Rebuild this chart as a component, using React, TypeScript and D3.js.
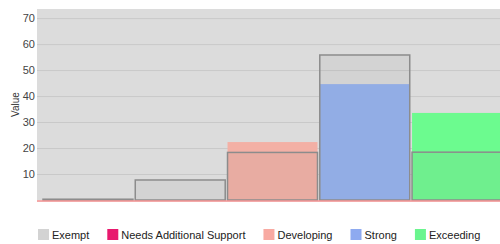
import React, { useRef, useEffect } from 'react';
import * as d3 from 'd3';

const categories = ['Exempt', 'Needs Additional Support', 'Developing', 'Strong', 'Exceeding'];
const levelValues = [0, 0, 22.3, 44.6, 33.5];
const outlineValues = [0.3, 7.7, 18.3, 55.8, 18.4];
const barColors = ['#d3d3d3', '#e8196e', '#f3b0a5', '#94b1f0', '#6cfb8f'];
const legendColors = ['#d3d3d3', '#e8196e', '#f8aaa2', '#8eaaf0', '#6af58e'];
const yTicks = [10, 20, 30, 40, 50, 60, 70];

const App = () => {
  const chartRef = useRef<SVGSVGElement | null>(null);

  useEffect(() => {
    const width = 500;
    const height = 244;
    const plot = { left: 37, right: 508, top: 9, bottom: 200 };

    const svg = d3.select(chartRef.current);
    svg.selectAll('*').remove();

    const x = d3
      .scaleBand()
      .domain(categories)
      .range([plot.left, plot.right])
      .paddingInner(0.025)
      .paddingOuter(0.065);

    const y = d3.scaleLinear().domain([0, 73.5]).range([plot.bottom, plot.top]);

    svg
      .append('rect')
      .attr('x', plot.left)
      .attr('y', plot.top)
      .attr('width', width - plot.left)
      .attr('height', plot.bottom - plot.top)
      .attr('fill', '#dcdcdc');

    svg
      .append('g')
      .attr('transform', `translate(${plot.left}, 0)`)
      .call(d3.axisLeft(y).tickValues(yTicks).tickSize(-(width - plot.left)).tickPadding(2))
      .call((g) => g.select('.domain').remove())
      .call((g) => g.selectAll('.tick line').attr('stroke', '#c9c9c9'))
      .call((g) =>
        g
          .selectAll('.tick text')
          .attr('fill', '#444')
          .attr('font-size', '11px')
          .attr('font-family', 'Liberation Sans, Arial, sans-serif')
      );

    svg
      .append('text')
      .attr('transform', `translate(19, ${(plot.top + plot.bottom) / 2}) rotate(-90)`)
      .attr('text-anchor', 'middle')
      .attr('font-size', '10px')
      .attr('font-family', 'Liberation Sans, Arial, sans-serif')
      .attr('fill', '#333')
      .text('Value');

    // coloured level bars
    svg
      .append('g')
      .selectAll('rect')
      .data(categories)
      .join('rect')
      .attr('x', (d) => x(d)!)
      .attr('y', (d, i) => y(levelValues[i]))
      .attr('width', x.bandwidth())
      .attr('height', (d, i) => y(0) - y(levelValues[i]))
      .attr('fill', (d, i) => barColors[i]);

    // grey outlined bars on top
    svg
      .append('g')
      .selectAll('rect')
      .data(categories)
      .join('rect')
      .attr('x', (d) => x(d)!)
      .attr('y', (d, i) => y(outlineValues[i]))
      .attr('width', x.bandwidth())
      .attr('height', (d, i) => y(0) - y(outlineValues[i]))
      .attr('fill', 'rgba(140,140,140,0.1)')
      .attr('stroke', '#8c8c8c')
      .attr('stroke-width', 1.5);

    svg
      .append('line')
      .attr('x1', plot.left)
      .attr('x2', width)
      .attr('y1', y(0) + 1)
      .attr('y2', y(0) + 1)
      .attr('stroke', '#f08c8c')
      .attr('stroke-width', 1.5);

    // legend
    const legend = svg.append('g').attr('font-family', 'Liberation Sans, Arial, sans-serif').attr('font-size', '11px');
    let lx = 38;
    categories.forEach((c, i) => {
      legend
        .append('rect')
        .attr('x', lx)
        .attr('y', 229)
        .attr('width', 11)
        .attr('height', 11)
        .attr('fill', legendColors[i]);
      const t = legend
        .append('text')
        .attr('x', lx + 14)
        .attr('y', 239)
        .attr('fill', '#222')
        .text(c);
      const w = (t.node() as SVGTextElement).getComputedTextLength();
      lx += 14 + w + 18;
    });

    svg.attr('width', width).attr('height', height);
  }, []);

  return <svg ref={chartRef} style={{ position: 'absolute', left: 0, top: 0 }}></svg>;
};

export default App;
